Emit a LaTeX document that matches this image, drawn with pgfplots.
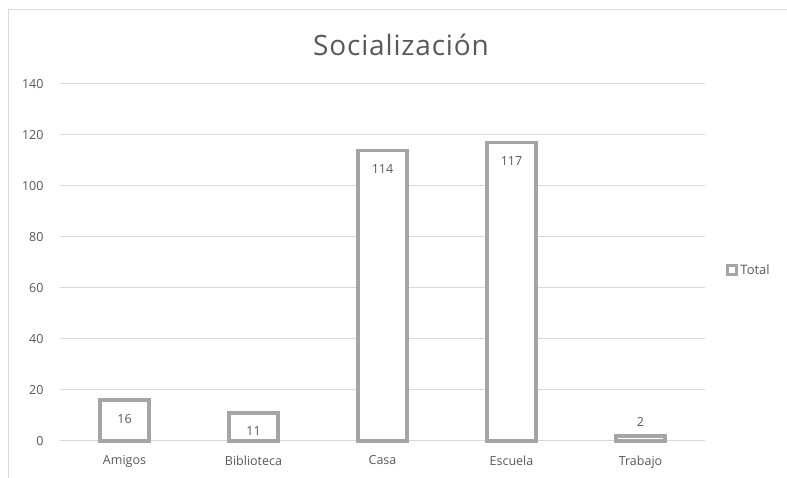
\documentclass[border=0pt]{standalone}
\usepackage{pgfplots}
\pgfplotsset{compat=1.18}
\usepackage{fontspec}
\setmainfont{Open Sans}
\definecolor{txt}{HTML}{595959}
\definecolor{barc}{HTML}{A5A5A5}
\definecolor{gridc}{HTML}{D9D9D9}
\begin{document}
\begin{tikzpicture}[x=1pt,y=1pt]
\useasboundingbox (0,0) rectangle (787,478);
\fill[white] (0,0) rectangle (787,478);
\draw[gridc, line width=1pt] (8,0) -- (8,468) -- (787,468);
\node[txt, font=\fontsize{28}{32}\selectfont\addfontfeatures{LetterSpace=3}] at (401,433) {Socialización};
\begin{axis}[
  at={(60pt,37pt)}, anchor=south west,
  scale only axis, width=645pt, height=357pt,
  xmin=-0.5, xmax=4.5, ymin=0, ymax=140,
  ytick={0,20,...,140},
  xtick={0,1,2,3,4},
  xticklabels={Amigos,Biblioteca,Casa,Escuela,Trabajo},
  axis line style={draw=none},
  x axis line style={draw=gridc},
  ymajorgrids, grid style={gridc, line width=1pt},
  major tick length=0pt,
  tick label style={txt, font=\fontsize{12.5}{14}\selectfont},
  /pgf/number format/assume math mode=true,
  yticklabel style={anchor=east, xshift=-13pt},
  xticklabel style={yshift=-11pt},
  ybar, bar width=49pt, bar shift=0pt,
  legend style={at={(1.033,0.479)}, anchor=west, draw=none, fill=none,
    font=\fontsize{13}{15}\selectfont, text=txt, inner sep=0pt},
  legend image code/.code={\draw[fill=white, draw=barc, line width=3pt] (0pt,-4.5pt) rectangle (9pt,4.5pt);},
  nodes near coords,
  every node near coord/.append style={txt, font=\fontsize{12.5}{14}\selectfont},
  clip=false,
]
\addplot[draw=barc, fill=white, line width=3.5pt,
  nodes near coords style={anchor=north, yshift=-9pt}]
  coordinates {(0,16) (1,11) (2,114) (3,117)};
\addlegendentry{Total}
\addplot[draw=barc, fill=white, line width=3.5pt, forget plot,
  nodes near coords style={anchor=south, yshift=4pt}]
  coordinates {(4,2)};
\end{axis}
\end{tikzpicture}
\end{document}
